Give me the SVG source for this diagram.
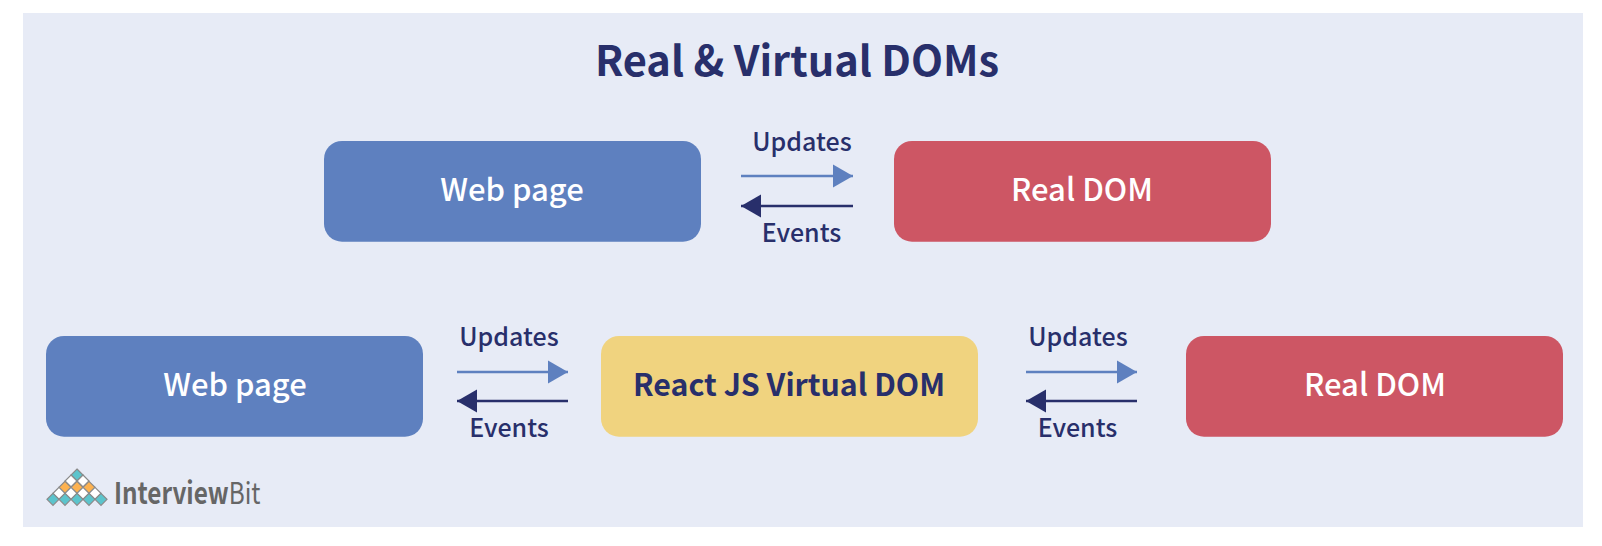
<svg xmlns="http://www.w3.org/2000/svg" width="1602" height="546" viewBox="0 0 1602 546">
<style>
text{font-family:"Noto Sans CJK SC","Noto Sans",sans-serif;font-weight:500;text-anchor:middle}
.t{font-size:31px;fill:#fff}
.d{fill:#282f6b}
.l{font-size:25px;fill:#282f6b}
.blue{fill:#5e80bf}.red{fill:#cd5664}.yel{fill:#f0d37f}
.cu{stroke:#5e80bf;stroke-width:2.7;fill:none;marker-end:url(#au)}
.ce{stroke:#282f6b;stroke-width:2.7;fill:none;marker-end:url(#ae)}
.k{stroke:#8a8a8a;stroke-width:1.2}
.te{fill:#5cc4cc}.wh{fill:#fff}.or{fill:#fdb250}
</style>
<defs>
<marker id="au" markerUnits="userSpaceOnUse" markerWidth="20" markerHeight="24" refX="20" refY="12" orient="auto"><path d="M0 0.500L20 12L0 23.500Z" fill="#5e80bf"/></marker>
<marker id="ae" markerUnits="userSpaceOnUse" markerWidth="20" markerHeight="24" refX="20" refY="12" orient="auto"><path d="M0 0.500L20 12L0 23.500Z" fill="#282f6b"/></marker>
<path id="dm" d="M0 -6L6 0L0 6L-6 0Z"/>
</defs>
<rect x="0" y="0" width="1602" height="546" fill="#fff"/>
<rect x="23" y="13" width="1560" height="514" fill="#e7ebf6"/>
<text x="797" y="76" font-size="41.600" style="font-weight:700" class="d">Real &amp; Virtual DOMs</text>
<g id="n1"><rect class="blue" x="324" y="141" width="377" height="100.700" rx="18"/><text class="t" x="512" y="201">Web page</text></g>
<g id="n2"><rect class="red" x="894" y="141" width="377" height="100.700" rx="18"/><text class="t" x="1082" y="201">Real DOM</text></g>
<g id="n3"><rect class="blue" x="46" y="336" width="377" height="100.700" rx="18"/><text class="t" x="235" y="396">Web page</text></g>
<g id="n4"><rect class="yel" x="601" y="336" width="377" height="100.700" rx="18"/><text class="t" x="789" y="396" style="fill:#282f6b;font-weight:700;font-size:30.300px">React JS Virtual DOM</text></g>
<g id="n5"><rect class="red" x="1186" y="336" width="377" height="100.700" rx="18"/><text class="t" x="1375" y="396">Real DOM</text></g>
<g id="connectors">
<path class="cu" d="M741 176H853"/><path class="ce" d="M853 206H741"/>
<path class="cu" d="M457 372H568"/><path class="ce" d="M568 401H457"/>
<path class="cu" d="M1026 372H1137"/><path class="ce" d="M1137 401H1026"/>
</g>
<g id="labels">
<text class="l" x="802" y="150.500">Updates</text><text class="l" x="801.500" y="242">Events</text>
<text class="l" x="509" y="345.500">Updates</text><text class="l" x="509" y="437">Events</text>
<text class="l" x="1078" y="345.500">Updates</text><text class="l" x="1077.500" y="437">Events</text>
</g>
<g id="logo">
<use href="#dm" class="te k" x="77" y="475"/>
<use href="#dm" class="wh k" x="71" y="481"/><use href="#dm" class="wh k" x="83" y="481"/>
<use href="#dm" class="or k" x="65" y="487.300"/><use href="#dm" class="or k" x="77" y="487.300"/><use href="#dm" class="or k" x="89" y="487.300"/>
<use href="#dm" class="wh k" x="59" y="493.300"/><use href="#dm" class="wh k" x="71" y="493.300"/><use href="#dm" class="wh k" x="83" y="493.300"/><use href="#dm" class="wh k" x="95" y="493.300"/>
<use href="#dm" class="te k" x="53" y="499.300"/><use href="#dm" class="te k" x="65" y="499.300"/><use href="#dm" class="te k" x="77" y="499.300"/><use href="#dm" class="te k" x="89" y="499.300"/><use href="#dm" class="te k" x="101" y="499.300"/>
<text transform="translate(114 504) scale(.81 1)" font-size="30" fill="#666" style="text-anchor:start;font-weight:700">Interview<tspan style="font-weight:400">Bit</tspan></text>
</g>
</svg>
